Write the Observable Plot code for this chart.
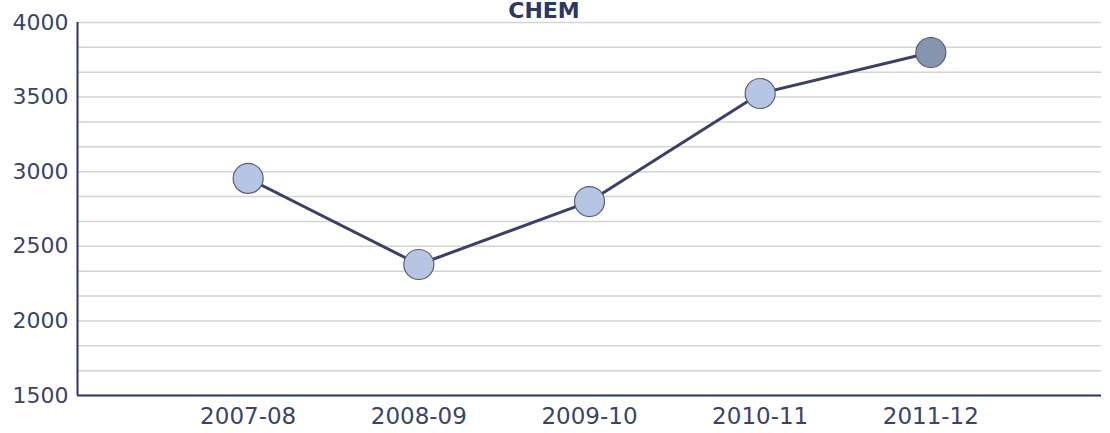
<!DOCTYPE html>
<html>
<head>
<meta charset="utf-8">
<script src="https://cdn.jsdelivr.net/npm/d3@7"></script>
<script src="https://cdn.jsdelivr.net/npm/@observablehq/plot@0.6"></script>
<style>
  html, body { margin: 0; padding: 0; background: #ffffff; overflow: hidden; }
  #wrap { position: relative; width: 1110px; height: 433px; }
  #title { position: absolute; left: 0; width: 1088px; top: 0px; height: 22px; text-align: center; line-height: 22px;
           font-family: "DejaVu Sans", Verdana, sans-serif; font-weight: bold; font-size: 22px; color: #2d3766; z-index: 2; }
</style>
</head>
<body>
<div id="wrap">
  <div id="title">CHEM</div>
  <div id="chart"></div>
</div>
<script>
const categories = ["2007-08", "2008-09", "2009-10", "2010-11", "2011-12"];
const values = [2955, 2378, 2800, 3524, 3799];
const yTicks = [1500, 2000, 2500, 3000, 3500, 4000];

const data = categories.map((c, i) => ({ idx: i + 1, cat: c, value: values[i], last: i === categories.length - 1 }));
const gridVals = d3.range(0, 16).map(k => 1500 + k * 500 / 3);

const plot = Plot.plot({
  width: 1110,
  height: 433,
  marginTop: 22,
  marginBottom: 38,
  marginLeft: 77,
  marginRight: 9,
  style: { fontFamily: "DejaVu Sans, Verdana, sans-serif", fontSize: "22px", color: "#3b4468", background: "transparent" },
  x: { domain: [0, 6], axis: null },
  y: { domain: [1500, 4000], axis: null },
  marks: [
    Plot.ruleY(gridVals, { stroke: "#d2d4d8", strokeWidth: 1.5 }),
    Plot.axisY(yTicks, { tickSize: 0, tickPadding: 9, fontSize: 22, fill: "#3b4468", label: null, tickFormat: d => String(d) }),
    Plot.axisX(categories.map((c, i) => i + 1), { tickSize: 0, tickPadding: 12, fontSize: 23, fill: "#3b4468", label: null, tickFormat: d => categories[d - 1] }),
    Plot.ruleX([0], { stroke: "#2e3466", strokeWidth: 2 }),
    Plot.ruleY([1500], { stroke: "#2e3466", strokeWidth: 2 }),
    Plot.line(data, { x: "idx", y: "value", stroke: "#3b3f6a", strokeWidth: 3 }),
    Plot.dot(data, { x: "idx", y: "value", r: 15, fill: d => d.last ? "#8595b0" : "#b4c6e4", stroke: "#5a6074", strokeWidth: 1.2, fillOpacity: 1 })
  ]
});
document.getElementById("chart").appendChild(plot);
</script>
</body>
</html>
